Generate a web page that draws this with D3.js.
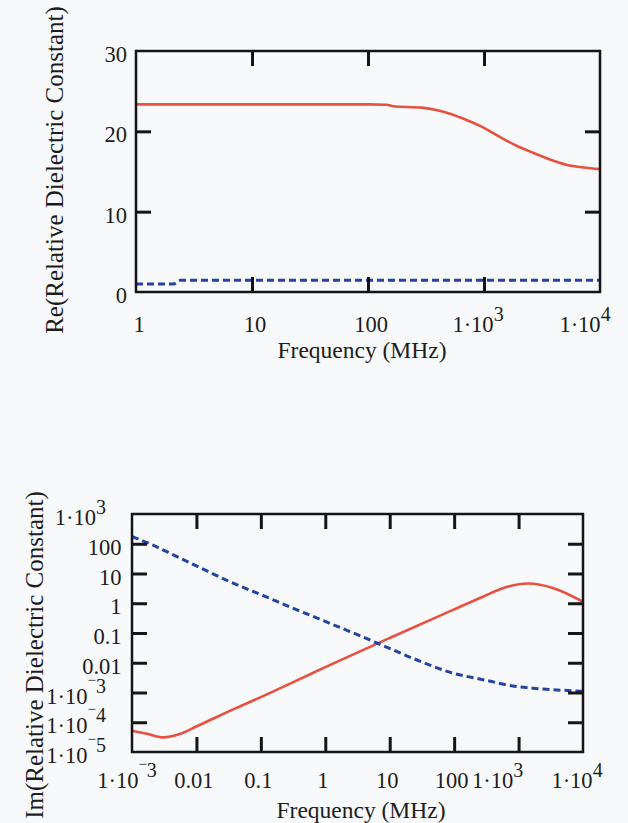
<!DOCTYPE html>
<html><head><meta charset="utf-8">
<script src="https://cdn.jsdelivr.net/npm/d3@7"></script>
<style>
body{margin:0;background:#f8f9fb;}
svg{display:block;}
text{font-family:"Liberation Serif","Times New Roman",serif;fill:#1c1c1c;}
</style></head><body>
<svg id="c" width="628" height="823"></svg>
<script>
// ---------- data ----------
// Top panel: Re(relative dielectric constant) vs frequency (MHz)
const reRedFreq  = [1, 10, 100, 145, 165, 290, 390, 510, 710, 980, 1370, 1910, 2680, 3700, 5130, 7200, 10000];
const reRedVal   = [23.35, 23.35, 23.35, 23.3, 23.12, 22.95, 22.65, 22.2, 21.4, 20.5, 19.3, 18.2, 17.3, 16.5, 15.85, 15.5, 15.3];
const reBlueFreq = [1, 2.1, 2.4, 10, 100, 1000, 10000];
const reBlueVal  = [1.0, 1.0, 1.45, 1.45, 1.45, 1.45, 1.45];
const topXTicks  = [1, 10, 100, 1000, 10000];
const topXLabels = ["1", "10", "100", "1·10^3", "1·10^4"];
const topYTicks  = [0, 10, 20, 30];
const topYLabels = ["0", "10", "20", "30"];

// Bottom panel: Im(relative dielectric constant) vs frequency (MHz)
const imRedFreq  = [0.001, 0.0017, 0.003, 0.0055, 0.01, 0.033, 0.1, 0.35, 1, 10, 100, 280, 650, 1400, 3500, 10000];
const imRedVal   = [5.2e-5, 4.1e-5, 3.1e-5, 4.0e-5, 7.2e-5, 2.4e-4, 7.0e-4, 2.45e-3, 7.1e-3, 0.068, 0.62, 1.66, 3.5, 4.6, 3.2, 1.12];
const imBlueFreq = [0.001, 0.0019, 0.0034, 0.01, 0.033, 0.1, 0.35, 1, 2.4, 7.4, 26, 95, 280, 910, 1660, 10000];
const imBlueVal  = [174, 100, 55, 18, 5.3, 1.95, 0.62, 0.245, 0.112, 0.04, 0.0126, 0.0045, 0.0027, 0.0016, 0.0014, 0.0011];
const botXTicks  = [0.001, 0.01, 0.1, 1, 10, 100, 1000, 10000];
const botXLabels = ["1·10^-3", "0.01", "0.1", "1", "10", "100", "1·10^3", "1·10^4"];
const botYTicks  = [1e-5, 1e-4, 1e-3, 0.01, 0.1, 1, 10, 100, 1000];
const botYLabels = ["1·10^-5", "1·10^-4", "1·10^-3", "0.01", "0.1", "1", "10", "100", "1·10^3"];

const xTitle = "Frequency (MHz)";
const topYTitle = "Re(Relative Dielectric Constant)";
const botYTitle = "Im(Relative Dielectric Constant)";

// ---------- drawing ----------
const svg = d3.select("#c");
const FS = 22.5;
const RED = "#e8503f", BLUE = "#2444a4", INK = "#151515";

function writeLabel(sel, s) {
  sel.text(null);
  const parts = s.split("^");
  sel.append("tspan").text(parts[0]);
  if (parts.length > 1) {
    const e = parts[1];
    if (e.startsWith("-")) {
      sel.append("tspan").attr("font-size", 15).attr("dy", -19).text("\u2212");
      sel.append("tspan").attr("font-size", 20).attr("dy", 8).text(e.slice(1));
    } else {
      sel.append("tspan").attr("font-size", 20).attr("dy", -11).text(e);
    }
  }
}

function panel(o) {
  const g = svg.append("g");
  const x = d3.scaleLog().domain(o.xDomain).range([o.left, o.right]);
  const y = (o.yLog ? d3.scaleLog() : d3.scaleLinear()).domain(o.yDomain).range([o.bottom, o.top]);
  const id = "clip" + o.name;
  svg.append("clipPath").attr("id", id).append("rect")
    .attr("x", o.left).attr("y", o.top - 2).attr("width", o.right - o.left).attr("height", o.bottom - o.top + 4);

  const line = d3.line().x(d => x(d[0])).y(d => y(d[1])).curve(d3.curveMonotoneX);
  o.series.forEach(s => {
    g.append("path").datum(d3.zip(s.f, s.v))
      .attr("clip-path", `url(#${id})`)
      .attr("d", line).attr("fill", "none")
      .attr("stroke", s.color).attr("stroke-width", s.w)
      .attr("stroke-dasharray", s.dash || null)
      .attr("stroke-linejoin", "round");
  });

  const inner = (arr) => arr.slice(1, -1);
  const axes = [
    [d3.axisBottom(x).tickValues(inner(o.xTicks)), `translate(0,${o.bottom})`],
    [d3.axisTop(x).tickValues(inner(o.xTicks)), `translate(0,${o.top})`],
    [d3.axisLeft(y).tickValues(inner(o.yTicks)), `translate(${o.left},0)`],
    [d3.axisRight(y).tickValues(inner(o.yTicks)), `translate(${o.right},0)`]
  ];
  axes.forEach(([gen, tr]) => {
    const a = g.append("g").attr("transform", tr)
      .call(gen.tickSize(-15).tickSizeOuter(0).tickFormat(""));
    a.select(".domain").remove();
    a.selectAll(".tick line").attr("stroke", INK).attr("stroke-width", 3);
  });

  g.append("rect").attr("x", o.left).attr("y", o.top)
    .attr("width", o.right - o.left).attr("height", o.bottom - o.top)
    .attr("fill", "none").attr("stroke", INK).attr("stroke-width", 2.5);

  // x tick labels
  o.xTicks.forEach((v, i) => {
    const lab = o.xLabels[i];
    const t = g.append("text").attr("font-size", FS).attr("text-anchor", "middle")
      .attr("x", x(v) + (o.xNudge[v] !== undefined ? o.xNudge[v] : o.xNudgeDefault))
      .attr("y", o.xLabelY);
    writeLabel(t, lab);
  });
  // y tick labels
  o.yTicks.forEach((v, i) => {
    const lab = o.yLabels[i];
    const isExp = lab.includes("^");
    const t = g.append("text").attr("font-size", FS).attr("text-anchor", "end")
      .attr("x", o.left - (isExp ? o.yExpGap : o.yGap))
      .attr("y", y(v) + 11);
    writeLabel(t, lab);
  });
  // titles
  g.append("text").attr("font-size", 23.5).attr("text-anchor", "middle")
    .attr("x", o.xTitleX).attr("y", o.xTitleY).text(xTitle);
  g.append("text").attr("font-size", 25).attr("text-anchor", "middle")
    .attr("transform", `translate(${o.yTitleX},${o.yTitleY}) rotate(-90)`).text(o.yTitle);
}

panel({
  name: "top", left: 136, right: 600, top: 51, bottom: 292,
  xDomain: [1, 10000], yDomain: [0, 30], yLog: false,
  xTicks: topXTicks, xLabels: topXLabels, yTicks: topYTicks, yLabels: topYLabels,
  xNudge: {1000: -6, 10000: -15}, xNudgeDefault: 3, xLabelY: 332,
  yGap: 9, yExpGap: 26,
  xTitleX: 362, xTitleY: 358, yTitle: topYTitle, yTitleX: 63, yTitleY: 170,
  series: [
    {f: reRedFreq, v: reRedVal, color: RED, w: 2.6},
    {f: reBlueFreq, v: reBlueVal, color: BLUE, w: 3, dash: "7,4"}
  ]
});

panel({
  name: "bot", left: 132, right: 583, top: 514, bottom: 752,
  xDomain: [0.001, 10000], yDomain: [1e-5, 1000], yLog: true,
  xTicks: botXTicks, xLabels: botXLabels, yTicks: botYTicks, yLabels: botYLabels,
  xNudge: {0.001: -5, 1000: -21, 10000: -6}, xNudgeDefault: -2.5, xLabelY: 788,
  yGap: 10.5, yExpGap: 26,
  xTitleX: 361, xTitleY: 818, yTitle: botYTitle, yTitleX: 43, yTitleY: 655,
  series: [
    {f: imRedFreq, v: imRedVal, color: RED, w: 2.6},
    {f: imBlueFreq, v: imBlueVal, color: BLUE, w: 3, dash: "7,4"}
  ]
});
</script>
</body></html>
